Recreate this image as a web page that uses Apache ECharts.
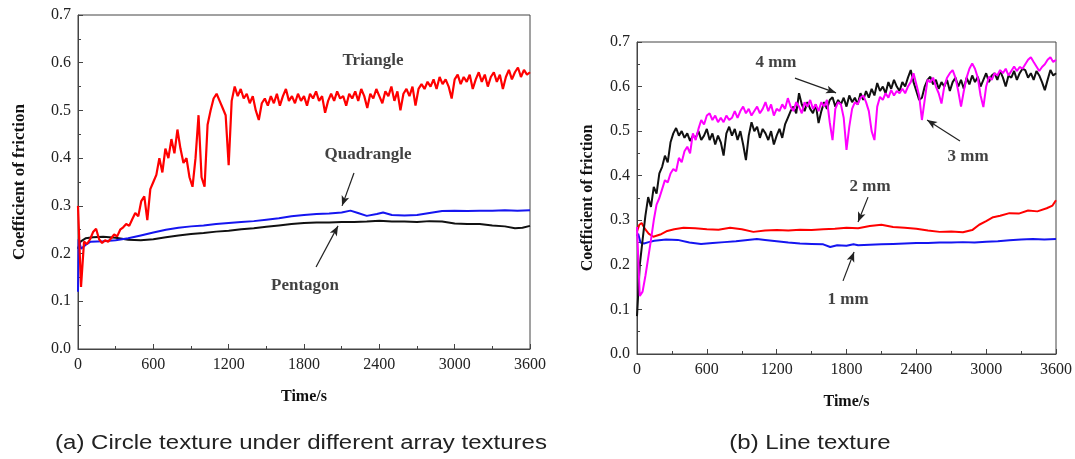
<!DOCTYPE html>
<html>
<head>
<meta charset="utf-8">
<script src="https://cdn.jsdelivr.net/npm/echarts@6/dist/echarts.min.js"></script>
<style>
  html, body { margin: 0; background: #fff; }
  #chart { width: 1075px; height: 459px; }
</style>
</head>
<body>
<div id="chart"></div>
<script>
// sampling step (s) of the noisy traces
const SAMPLE_STEP = 24;

// (a) circle texture
const triangleVals = [
  0.30, 0.13, 0.225, 0.22, 0.23, 0.245, 0.252, 0.23, 0.222, 0.228,
  0.225, 0.232, 0.24, 0.236, 0.25, 0.255, 0.262, 0.258, 0.272, 0.285,
  0.278, 0.31, 0.32, 0.27, 0.335, 0.35, 0.365, 0.40, 0.37, 0.42,
  0.40, 0.44, 0.41, 0.46, 0.42, 0.39, 0.40, 0.36, 0.34, 0.40,
  0.49, 0.36, 0.34, 0.47, 0.50, 0.525, 0.535, 0.52, 0.505, 0.49,
  0.385, 0.52, 0.55, 0.53, 0.545, 0.525, 0.535, 0.515, 0.53, 0.50,
  0.48, 0.515, 0.525, 0.51, 0.53, 0.515, 0.535, 0.51, 0.53, 0.545,
  0.52, 0.53, 0.515, 0.535, 0.52, 0.53, 0.51, 0.535, 0.525, 0.54,
  0.52, 0.53, 0.495, 0.52, 0.535, 0.52, 0.54, 0.525, 0.53, 0.51,
  0.535, 0.525, 0.54, 0.52, 0.545, 0.53, 0.505, 0.535, 0.525, 0.545,
  0.53, 0.515, 0.54, 0.53, 0.55, 0.52, 0.54, 0.50, 0.535, 0.545,
  0.53, 0.55, 0.51, 0.545, 0.555, 0.545, 0.56, 0.55, 0.565, 0.545,
  0.57, 0.555, 0.565, 0.55, 0.525, 0.565, 0.575, 0.555, 0.57, 0.56,
  0.575, 0.545, 0.565, 0.58, 0.56, 0.575, 0.55, 0.57, 0.58, 0.56,
  0.575, 0.545, 0.57, 0.585, 0.565, 0.58, 0.59, 0.57, 0.585, 0.575,
  0.58
];

const quadTimes = [0, 5, 25, 60, 100, 200, 300, 400, 500, 600, 700, 800, 900, 1000, 1100, 1200,
  1300, 1400, 1500, 1600, 1700, 1800, 1900, 2000, 2100, 2170, 2230, 2300, 2380, 2430, 2500,
  2600, 2700, 2800, 2900, 3000, 3100, 3200, 3300, 3400, 3500, 3600];
const quadVals = [0.12, 0.23, 0.21, 0.218, 0.225, 0.226, 0.228, 0.232, 0.238, 0.244, 0.25, 0.254,
  0.257, 0.259, 0.262, 0.264, 0.266, 0.268, 0.271, 0.274, 0.278, 0.281, 0.283, 0.284, 0.286,
  0.29, 0.285, 0.279, 0.283, 0.286, 0.281, 0.28, 0.281, 0.285, 0.289, 0.29, 0.289, 0.29, 0.29,
  0.291, 0.29, 0.291];

const pentTimes = [0, 20, 60, 120, 200, 300, 400, 500, 600, 700, 800, 900, 1000, 1100, 1200, 1300,
  1400, 1500, 1600, 1700, 1800, 1900, 2000, 2100, 2200, 2300, 2400, 2500, 2600, 2700, 2800,
  2900, 3000, 3100, 3200, 3300, 3400, 3480, 3540, 3600];
const pentVals = [0.21, 0.225, 0.232, 0.234, 0.235, 0.233, 0.229, 0.228, 0.23, 0.234, 0.238,
  0.241, 0.243, 0.246, 0.248, 0.251, 0.253, 0.256, 0.259, 0.262, 0.264, 0.265, 0.265, 0.266,
  0.266, 0.267, 0.269, 0.267, 0.267, 0.266, 0.268, 0.267, 0.263, 0.262, 0.262, 0.259, 0.257,
  0.253, 0.254, 0.258];

// (b) line texture
const mm4Vals = [
  0.085, 0.2, 0.256, 0.31, 0.352, 0.33, 0.375, 0.36, 0.405, 0.42,
  0.445, 0.43, 0.475, 0.495, 0.507, 0.49, 0.5, 0.485, 0.495, 0.478,
  0.49, 0.485, 0.5, 0.48, 0.49, 0.505, 0.48, 0.495, 0.47, 0.49,
  0.475, 0.445, 0.495, 0.51, 0.49, 0.505, 0.48, 0.5, 0.47, 0.435,
  0.49, 0.52, 0.5, 0.51, 0.485, 0.505, 0.495, 0.48, 0.5, 0.47,
  0.49, 0.505, 0.485, 0.515, 0.53, 0.545, 0.555, 0.54, 0.585, 0.56,
  0.545, 0.565, 0.55, 0.54, 0.56, 0.518, 0.545, 0.565, 0.55, 0.57,
  0.576, 0.555, 0.57, 0.56, 0.575, 0.555, 0.58, 0.565, 0.575, 0.56,
  0.585, 0.57, 0.59, 0.575, 0.595, 0.58, 0.608, 0.59, 0.6, 0.585,
  0.61, 0.595, 0.615, 0.6, 0.59, 0.61, 0.6, 0.62, 0.637, 0.61,
  0.59, 0.57, 0.575, 0.6, 0.615, 0.622, 0.605, 0.615, 0.595, 0.61,
  0.6, 0.615, 0.59, 0.61, 0.62, 0.6, 0.615, 0.595, 0.62, 0.605,
  0.625, 0.61, 0.622, 0.6, 0.615, 0.63, 0.61, 0.625, 0.63, 0.615,
  0.635, 0.62, 0.6, 0.625, 0.62, 0.635, 0.615, 0.63, 0.64, 0.637,
  0.62, 0.63, 0.615, 0.635, 0.625, 0.61, 0.592, 0.615, 0.637, 0.625,
  0.63
];

const mm3Vals = [
  0.285, 0.13, 0.14, 0.175, 0.215, 0.256, 0.3, 0.335, 0.35, 0.37,
  0.39, 0.385, 0.405, 0.415, 0.41, 0.44, 0.43, 0.455, 0.465, 0.45,
  0.495, 0.48, 0.505, 0.525, 0.515, 0.535, 0.54, 0.525, 0.535, 0.52,
  0.53, 0.52, 0.535, 0.525, 0.53, 0.545, 0.53, 0.545, 0.555, 0.54,
  0.55, 0.535, 0.545, 0.555, 0.54, 0.55, 0.565, 0.545, 0.56, 0.535,
  0.55, 0.545, 0.56, 0.55, 0.574, 0.555, 0.545, 0.565, 0.555, 0.54,
  0.565, 0.555, 0.57, 0.55, 0.56, 0.545, 0.565, 0.555, 0.57, 0.52,
  0.48, 0.55, 0.565, 0.56, 0.53, 0.458, 0.51, 0.55, 0.565, 0.56,
  0.575, 0.58, 0.565, 0.545, 0.5, 0.48, 0.555, 0.577, 0.57, 0.585,
  0.575, 0.592, 0.58, 0.59, 0.585, 0.595, 0.585, 0.6, 0.61, 0.63,
  0.605, 0.58, 0.525, 0.57, 0.615, 0.61, 0.62, 0.6, 0.585, 0.562,
  0.6, 0.62, 0.63, 0.637, 0.62, 0.59, 0.555, 0.59, 0.62, 0.64,
  0.652, 0.64, 0.62, 0.58, 0.554, 0.6, 0.622, 0.615, 0.63, 0.625,
  0.637, 0.63, 0.64, 0.625, 0.635, 0.645, 0.635, 0.644, 0.64, 0.65,
  0.66, 0.666, 0.655, 0.645, 0.635, 0.644, 0.65, 0.66, 0.666, 0.655,
  0.66
];

const mm2Times = [0, 20, 40, 70, 100, 140, 200, 260, 320, 400, 500, 600, 700, 800, 900, 1000,
  1100, 1200, 1300, 1400, 1500, 1600, 1700, 1800, 1900, 2000, 2100, 2200, 2300, 2400, 2500,
  2600, 2700, 2800, 2880, 2940, 3000, 3060, 3120, 3200, 3280, 3360, 3440, 3520, 3570, 3600];
const mm2Vals = [0.275, 0.29, 0.294, 0.28, 0.27, 0.263, 0.268, 0.276, 0.28, 0.283, 0.282, 0.28,
  0.279, 0.283, 0.28, 0.274, 0.277, 0.278, 0.277, 0.279, 0.278, 0.28, 0.281, 0.283, 0.282,
  0.287, 0.29, 0.285, 0.283, 0.281, 0.277, 0.274, 0.275, 0.273, 0.278, 0.29, 0.298, 0.307,
  0.31, 0.316, 0.315, 0.322, 0.32, 0.327, 0.333, 0.345];

const mm1Times = [0, 10, 30, 60, 100, 150, 250, 350, 450, 550, 650, 750, 850, 950, 1030, 1100,
  1200, 1300, 1400, 1500, 1600, 1660, 1720, 1800, 1860, 1900, 2000, 2100, 2200, 2300, 2400,
  2500, 2600, 2700, 2800, 2900, 3000, 3100, 3200, 3300, 3400, 3500, 3600];
const mm1Vals = [0.265, 0.27, 0.25, 0.248, 0.251, 0.254, 0.257, 0.256, 0.25, 0.247, 0.249, 0.251,
  0.253, 0.256, 0.258, 0.256, 0.253, 0.25, 0.248, 0.247, 0.246, 0.24, 0.244, 0.243, 0.246,
  0.244, 0.245, 0.246, 0.247, 0.248, 0.249, 0.249, 0.25, 0.25, 0.251, 0.25, 0.252, 0.253,
  0.255, 0.257, 0.258, 0.257, 0.258];

// annotations: [time, cof, text]
const labelsA = [[2350, 0.604, 'Triangle'], [2310, 0.407, 'Quadrangle'], [1808, 0.132, 'Pentagon']];
const arrowsA = [[2198, 0.369, 2103, 0.300], [1896, 0.172, 2071, 0.258]];
const labelsB = [[1194, 0.653, '4 mm'], [2844, 0.442, '3 mm'], [2002, 0.375, '2 mm'], [1813, 0.121, '1 mm']];
const arrowsB = [[1357, 0.619, 1710, 0.586], [2775, 0.478, 2492, 0.525], [1985, 0.352, 1899, 0.296], [1770, 0.164, 1865, 0.229]];

const captions = ['(a) Circle texture under different array textures', '(b) Line texture'];

const SERIF = '"Liberation Serif", "Times New Roman", serif';
const AXIS_COLOR = '#444';

const zip = (ts, vs) => ts.map((t, i) => [t, vs[i]]);
const sampled = (vs) => vs.map((v, i) => [i * SAMPLE_STEP, v]);

function xAxis(gridIndex) {
  return {
    type: 'value', gridIndex, min: 0, max: 3600, interval: 600,
    name: 'Time/s', nameLocation: 'middle', nameGap: 40,
    nameTextStyle: { fontFamily: SERIF, fontWeight: 'bold', fontSize: 16, color: '#111' },
    axisLine: { lineStyle: { color: AXIS_COLOR, width: 1 } },
    axisTick: { inside: true, length: 5, lineStyle: { color: AXIS_COLOR } },
    minorTick: { show: true, splitNumber: 2, length: 3, lineStyle: { color: AXIS_COLOR } },
    axisLabel: { fontFamily: SERIF, fontSize: 16, color: '#222', margin: 8, formatter: v => String(v) },
    splitLine: { show: false }
  };
}

function yAxis(gridIndex, nameGap, nameSize) {
  return {
    type: 'value', gridIndex, min: 0, max: 0.7, interval: 0.1,
    name: 'Coefficient of friction', nameLocation: 'middle', nameRotate: 90, nameGap,
    nameTextStyle: { fontFamily: SERIF, fontWeight: 'bold', fontSize: nameSize, color: '#111' },
    axisLine: { show: true, lineStyle: { color: AXIS_COLOR, width: 1 } },
    axisTick: { show: true, inside: true, length: 5, lineStyle: { color: AXIS_COLOR } },
    minorTick: { show: true, splitNumber: 2, length: 3, lineStyle: { color: AXIS_COLOR } },
    axisLabel: { fontFamily: SERIF, fontSize: 16, color: '#222', margin: 7, formatter: v => v.toFixed(1) },
    splitLine: { show: false }
  };
}

function trace(idx, data, color, width) {
  return {
    type: 'line', xAxisIndex: idx, yAxisIndex: idx, data, showSymbol: false, symbol: 'none',
    lineStyle: { color, width }, itemStyle: { color }
  };
}

function notes(idx, labels, arrows) {
  return {
    type: 'scatter', xAxisIndex: idx, yAxisIndex: idx, symbolSize: 0, z: 5,
    data: labels,
    label: {
      show: true, position: 'inside', formatter: p => p.data[2],
      fontFamily: SERIF, fontWeight: 'bold', fontSize: 17, color: '#111'
    },
    markLine: {
      silent: true, animation: false,
      symbol: ['none', 'arrow'], symbolSize: [6, 10],
      label: { show: false },
      lineStyle: { color: '#222', width: 1.2, type: 'solid' },
      data: arrows.map(a => [{ coord: [a[0], a[1]] }, { coord: [a[2], a[3]] }])
    }
  };
}

const chart = echarts.init(document.getElementById('chart'));
chart.setOption({
  animation: false,
  backgroundColor: '#fff',
  graphic: captions.map((text, i) => ({
    type: 'text', x: i === 0 ? 301 : 810, y: 443, scaleX: 1.2,
    style: {
      text, align: 'center', verticalAlign: 'middle',
      font: 'normal 20px "Liberation Sans", Arial, sans-serif', fill: '#222'
    }
  })),
  grid: [
    { left: 78, top: 15, width: 452, height: 334, show: true, borderColor: AXIS_COLOR, borderWidth: 1 },
    { left: 637, top: 42, width: 419, height: 312, show: true, borderColor: AXIS_COLOR, borderWidth: 1 }
  ],
  xAxis: [xAxis(0), xAxis(1)],
  yAxis: [yAxis(0, 50, 17), yAxis(1, 41, 16)],
  series: [
    trace(0, zip(pentTimes, pentVals), '#111', 2),
    trace(0, zip(quadTimes, quadVals), '#1515f0', 2),
    trace(0, sampled(triangleVals), '#ff0000', 2.2),
    notes(0, labelsA, arrowsA),
    trace(1, zip(mm1Times, mm1Vals), '#1515f0', 2),
    trace(1, zip(mm2Times, mm2Vals), '#ff0000', 2),
    trace(1, sampled(mm4Vals), '#111', 2),
    trace(1, sampled(mm3Vals), '#ff00ff', 2),
    notes(1, labelsB, arrowsB)
  ]
});
</script>
</body>
</html>
